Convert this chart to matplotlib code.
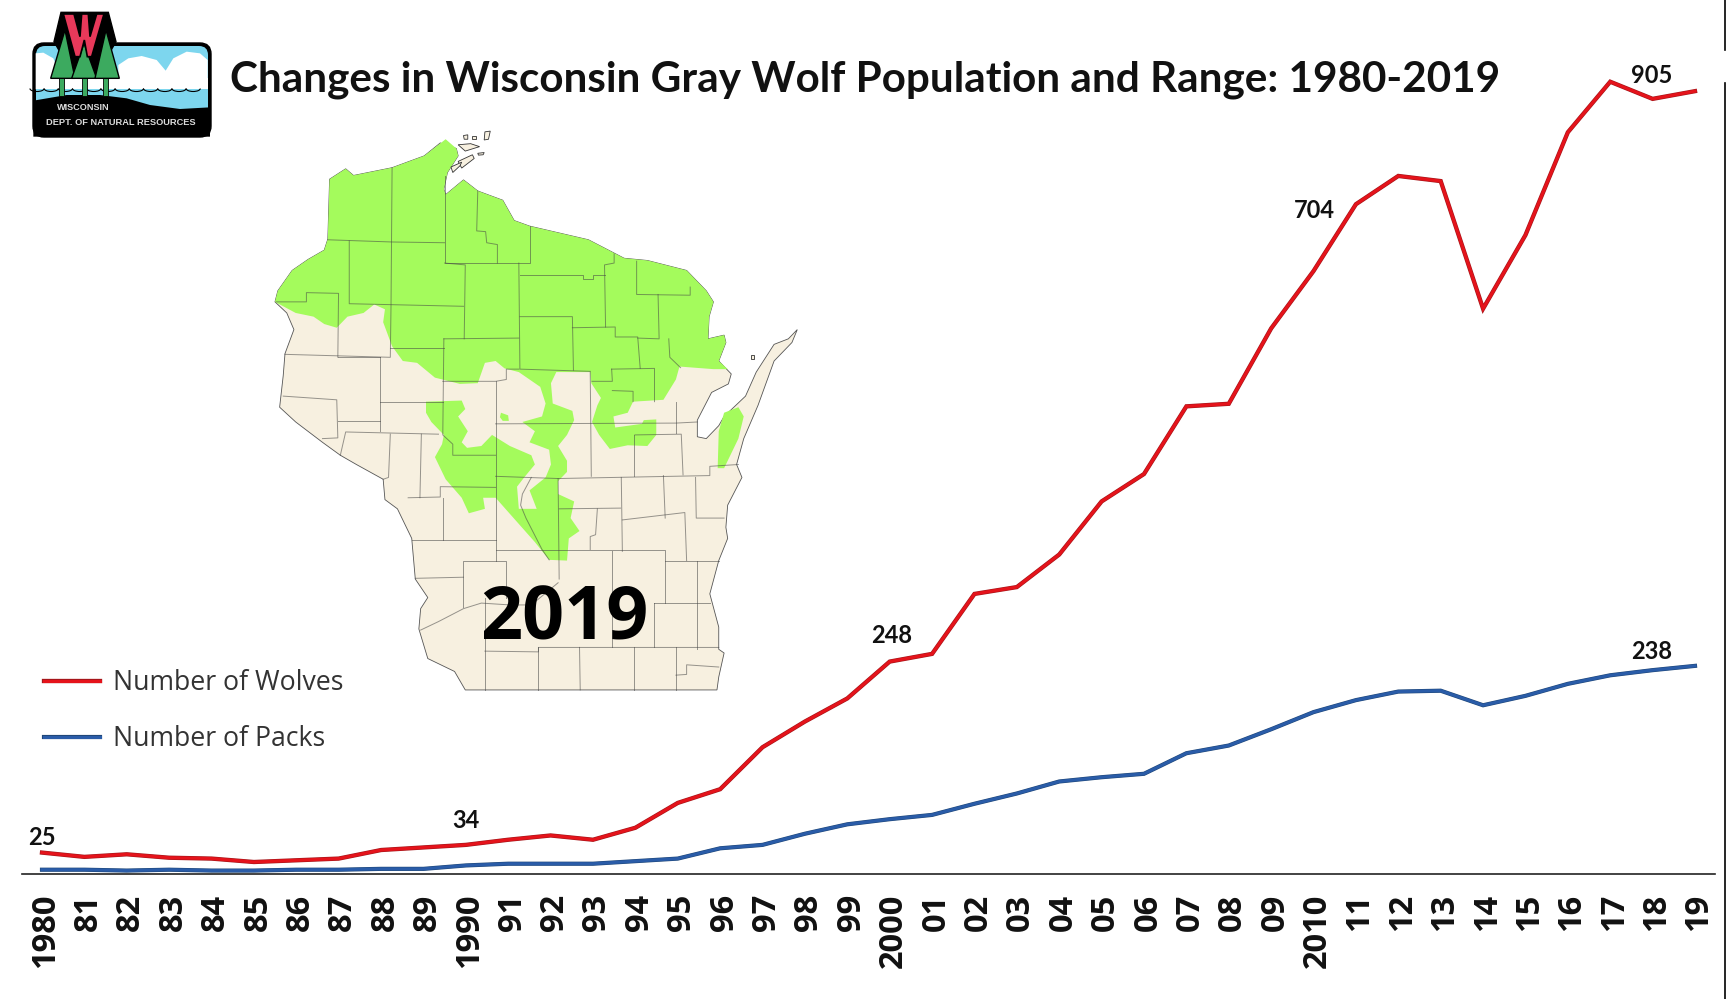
import matplotlib
matplotlib.use("Agg")
import matplotlib.pyplot as plt
import matplotlib.patheffects as pe
from matplotlib.patches import Arc, FancyBboxPatch, Polygon
from matplotlib.transforms import ScaledTranslation

plt.rcParams["font.family"] = ["Open Sans", "DejaVu Sans"]

W, H = 1726, 999
TEXT_COLOR = "#111111"
LAND = "#F7F0E0"
RANGE = "#A4FB5C"

years = list(range(1980, 2020))
wolves = [25, 20, 23, 19, 18, 14, 16, 18, 28, 31, 34, 40, 45, 40, 54, 83, 99, 148, 178, 205,
          248, 257, 327, 335, 373, 435, 467, 546, 549, 637, 704, 782, 815, 809, 660, 746,
          866, 925, 905, 914]
packs = [5, 5, 4, 5, 4, 4, 5, 5, 6, 6, 10, 12, 12, 12, 15, 18, 30, 34, 47, 58,
         64, 69, 82, 94, 108, 113, 117, 141, 150, 169, 189, 203, 213, 214, 197, 208,
         222, 232, 238, 243]
tick_labels = ["1980", "81", "82", "83", "84", "85", "86", "87", "88", "89",
               "1990", "91", "92", "93", "94", "95", "96", "97", "98", "99",
               "2000", "01", "02", "03", "04", "05", "06", "07", "08", "09",
               "2010", "11", "12", "13", "14", "15", "16", "17", "18", "19"]

# (year, x offset px, y offset px) for the few labelled values
wolf_labels = [(1980, 0, 15), (1990, 0, 24), (2000, 2, 26), (2010, 1, 61), (2018, -1, 23)]
pack_labels = [(2018, -1, 19)]

# map, in crop coordinates
state_outline = [(195, 158), (240, 130), (262, 148), (370, 127), (460, 95), (505, 60), (550, 75), (555, 95),
                 (525, 140), (515, 185), (520, 200), (570, 160), (610, 190), (680, 215), (712, 270), (755, 285),
                 (920, 322), (1020, 372), (1085, 378), (1195, 405), (1250, 460), (1270, 490), (1258, 530),
                 (1255, 590), (1300, 580), (1305, 600), (1285, 650), (1320, 685), (1312, 712), (1265, 735),
                 (1225, 810), (1225, 855), (1250, 860), (1285, 825), (1300, 800), (1360, 745), (1390, 680),
                 (1440, 605), (1480, 590), (1505, 565), (1490, 600), (1440, 650), (1395, 770), (1355, 860),
                 (1335, 930), (1350, 965), (1310, 1040), (1305, 1100), (1310, 1130), (1285, 1190), (1260, 1280),
                 (1285, 1370), (1285, 1430), (1300, 1440), (1285, 1505), (1280, 1540), (575, 1540), (545, 1490),
                 (470, 1455), (445, 1375), (450, 1320), (470, 1290), (435, 1240), (425, 1130), (385, 1050),
                 (350, 1025), (345, 970), (270, 930), (225, 905), (175, 870), (100, 815), (55, 775), (65, 690),
                 (70, 630), (95, 565), (75, 520), (42, 490), (50, 460), (90, 405), (135, 375), (180, 350),
                 (190, 320)]
range_main = [(195, 158), (240, 130), (262, 148), (370, 127), (460, 95), (500, 65), (520, 50), (550, 75),
              (555, 95), (525, 140), (515, 185), (520, 200), (570, 160), (610, 190), (680, 215), (712, 270),
              (755, 285), (920, 322), (1020, 372), (1085, 378), (1195, 405), (1250, 460), (1270, 490),
              (1258, 530), (1255, 590), (1300, 580), (1305, 600), (1285, 650), (1310, 672), (1270, 672),
              (1175, 665), (1165, 700), (1130, 755), (1045, 760), (1030, 790), (990, 800), (995, 830),
              (1070, 820), (1075, 810), (1110, 808), (1110, 850), (1085, 880), (1030, 878), (980, 888),
              (950, 850), (930, 815), (945, 770), (955, 750), (928, 710), (925, 680), (830, 680), (815, 710),
              (820, 765), (875, 785), (880, 810), (860, 850), (835, 880), (860, 920), (860, 950), (835, 975),
              (835, 1010), (880, 1030), (870, 1075), (895, 1110), (865, 1130), (860, 1190), (810, 1188),
              (770, 1140), (715, 1080), (660, 1020), (625, 1020), (630, 1050), (585, 1062), (565, 1020),
              (520, 970), (490, 910), (510, 875), (515, 850), (480, 815), (465, 790), (465, 760), (565, 757),
              (575, 780), (555, 800), (582, 840), (565, 870), (580, 885), (620, 880), (650, 850), (700, 880),
              (760, 905), (770, 930), (740, 965), (720, 990), (725, 1050), (775, 1050), (755, 1000), (800, 965),
              (815, 930), (810, 890), (755, 870), (770, 840), (735, 815), (790, 800), (800, 765), (785, 720),
              (725, 680), (685, 670), (660, 650), (630, 655), (610, 710), (560, 712), (490, 695), (440, 655),
              (400, 650), (370, 610), (345, 545), (350, 510), (320, 497), (290, 520), (245, 530), (215, 560),
              (180, 550), (150, 530), (100, 520), (42, 490), (50, 460), (90, 405), (135, 375), (180, 350),
              (190, 320)]
range_blob = [(675, 790), (695, 797), (697, 812), (680, 812), (672, 802)]
range_door = [(1300, 790), (1340, 775), (1355, 800), (1340, 860), (1300, 940), (1282, 940), (1285, 840)]
islands = [[(630, 30), (645, 28), (640, 50), (628, 52)], [(555, 65), (590, 62), (615, 70), (575, 82)],
           [(555, 110), (595, 92), (600, 102), (565, 128)], [(570, 40), (582, 38), (582, 50), (572, 50)],
           [(535, 125), (565, 112), (560, 122), (540, 140)], [(595, 40), (605, 40), (605, 48), (595, 48)],
           [(610, 88), (628, 86), (625, 92), (612, 93)], [(1375, 635), (1385, 635), (1385, 645), (1375, 645)]]
county_lines = [
    [(190, 322), (370, 328), (517, 330)], [(370, 127), (367, 500), (365, 640), (70, 632)],
    [(517, 150), (517, 385), (755, 385), (755, 285)], [(250, 325), (250, 495), (570, 502)],
    [(517, 385), (575, 390), (572, 590)], [(45, 490), (130, 490), (130, 465), (220, 467), (218, 640)],
    [(515, 590), (725, 588)], [(515, 590), (512, 850), (540, 875), (540, 905), (660, 905)],
    [(365, 615), (515, 615)], [(725, 385), (728, 672), (925, 678)], [(728, 530), (875, 530), (878, 675)],
    [(728, 418), (905, 418), (905, 428), (932, 428), (932, 418), (965, 418)],
    [(992, 360), (992, 385), (965, 390), (968, 558)],
    [(875, 560), (995, 558), (995, 585), (1058, 585), (1065, 670)],
    [(1055, 380), (1055, 470), (1205, 472), (1205, 450)], [(1115, 470), (1118, 590), (1058, 588)],
    [(1145, 590), (1148, 640), (1178, 668)], [(985, 672), (1105, 670), (1105, 760)],
    [(985, 672), (987, 705), (930, 705)], [(987, 730), (1045, 732), (1045, 760)], [(925, 680), (928, 962)],
    [(610, 190), (607, 298), (632, 300), (635, 330), (665, 335), (665, 385)],
    [(512, 705), (660, 705), (690, 700), (690, 672), (725, 672)], [(660, 705), (660, 1190)],
    [(660, 820), (1165, 818), (1225, 815)], [(1165, 760), (1165, 845)],
    [(1050, 850), (1180, 848), (1185, 958)], [(1048, 850), (1048, 960)],
    [(660, 962), (835, 968), (1260, 960), (1260, 935), (1340, 930)], [(835, 968), (838, 1240)],
    [(838, 1050), (1010, 1048)], [(1012, 965), (1015, 1165)], [(1130, 960), (1135, 1075)],
    [(1015, 1080), (1190, 1060), (1195, 1190)], [(1220, 965), (1222, 1075), (1300, 1075)],
    [(945, 1050), (940, 1120), (925, 1125), (925, 1160)], [(660, 1162), (1135, 1162), (1135, 1305)],
    [(1135, 1190), (1285, 1190)], [(985, 1165), (985, 1425)], [(1225, 1190), (1225, 1430)],
    [(1105, 1305), (1260, 1305)], [(1105, 1305), (1105, 1425)], [(630, 1435), (780, 1437), (780, 1425), (1285, 1425)],
    [(630, 1290), (630, 1540)], [(778, 1425), (778, 1540)], [(895, 1425), (897, 1540)], [(1047, 1425), (1047, 1540)],
    [(1165, 1425), (1165, 1540)], [(1165, 1500), (1195, 1498), (1195, 1472), (1285, 1478)],
    [(570, 1315), (570, 1190), (690, 1190), (690, 1290)], [(425, 1135), (660, 1135)], [(512, 1020), (512, 1135)],
    [(435, 1238), (570, 1235)], [(450, 1378), (500, 1355), (570, 1320), (620, 1305), (700, 1310), (760, 1310), (835, 1250)],
    [(225, 905), (240, 842), (500, 848)], [(365, 848), (360, 965), (345, 970)], [(452, 848), (448, 1020)],
    [(415, 1020), (505, 1018), (505, 990), (660, 992)], [(335, 640), (335, 840)], [(335, 760), (512, 760)],
    [(218, 640), (335, 640)], [(65, 745), (215, 755), (218, 858), (175, 860)], [(218, 812), (335, 812)],
    [(760, 965), (735, 1010), (730, 1040), (745, 1075), (790, 1160), (810, 1188)],
]

# logo pieces, in 3x crop coordinates
logo_cloud_left = [(107, 160), (130, 158), (160, 175), (172, 205), (165, 268), (107, 268)]
logo_cloud_right = [(355, 195), (385, 175), (425, 168), (470, 180), (497, 212), (520, 175), (560, 155), (600, 160),
                    (623, 180), (623, 268), (355, 268)]
logo_band = [(107, 235), (623, 235), (623, 268), (107, 268)]
logo_water = [(107, 268), (623, 268), (623, 330), (107, 330)]
logo_hill = [(100, 302), (200, 285), (300, 285), (380, 295), (450, 315), (540, 327), (630, 322), (630, 410), (100, 410)]
logo_back = [(183, 37), (325, 37), (348, 125), (290, 225), (253, 150), (220, 225), (162, 125)]
logo_trees = [[(195, 90), (225, 235), (152, 235)], [(252, 130), (290, 235), (215, 235)], [(318, 90), (358, 235), (285, 235)]]
logo_trunks = [(178, 192), (245, 260), (310, 325)]
logo_w = [(190, 42), (222, 42), (240, 110), (245, 42), (265, 42), (270, 110), (290, 42), (312, 42), (275, 170),
          (262, 170), (253, 120), (240, 170), (225, 170)]


def crop_to_px(points):
    return [(260 + x * 0.357, 130 + (y - 25) * 0.3696) for x, y in points]


def logo_px(points):
    return [(x / 3, y / 3) for x, y in points]


def draw_map(ax):
    ax.add_patch(Polygon(crop_to_px(state_outline), fc=LAND, ec="#555555", lw=0.6))
    for shape in (range_main, range_blob, range_door):
        ax.add_patch(Polygon(crop_to_px(shape), fc=RANGE, ec="none"))
    for shape in islands:
        ax.add_patch(Polygon(crop_to_px(shape), fc=LAND, ec="#333333", lw=0.6))
    for line in county_lines:
        xs, ys = zip(*crop_to_px(line))
        ax.plot(xs, ys, color="#444444", alpha=0.55, lw=0.7)
    ax.text(564, 620, "2019", fontsize=53, fontweight="bold", color="black", ha="center", va="center")


def draw_logo(ax):
    sky = "#7DD6EE"
    green = "#3CAA5F"
    ax.add_patch(FancyBboxPatch((33, 43), 178, 94, boxstyle="round,pad=0,rounding_size=11", fc="black", ec="black", lw=1, zorder=2))
    ax.add_patch(FancyBboxPatch((36, 46), 172, 88, boxstyle="round,pad=0,rounding_size=9", fc=sky, ec="none", zorder=3))
    for shape in (logo_cloud_left, logo_cloud_right, logo_band):
        ax.add_patch(Polygon(logo_px(shape), fc="white", ec="none", zorder=3))
    ax.add_patch(Polygon(logo_px(logo_water), fc=sky, ec="none", zorder=3))
    for i in range(12):
        ax.add_patch(Arc((37 + i * 14.2, 88.5), 14.2, 6, theta1=0, theta2=180, color="black", lw=0.8, zorder=3.5))
    ax.add_patch(Polygon(logo_px(logo_hill), fc="black", ec="none", zorder=4))
    ax.add_patch(Polygon(logo_px(logo_back), fc="black", ec="black", zorder=5))
    for tree, (x0, x1) in zip(logo_trees, logo_trunks):
        ax.add_patch(Polygon(logo_px([(x0, 235), (x1, 235), (x1, 288), (x0, 288)]), fc=green, ec="black", lw=0.6, zorder=5))
        ax.add_patch(Polygon(logo_px(tree), fc=green, ec="black", lw=1, zorder=5))
    ax.add_patch(Polygon(logo_px(logo_w), fc="#E8395A", ec="black", lw=1.2, zorder=6))
    ax.text(83, 107, "WISCONSIN", color="#DDDDDD", fontsize=6.6, fontweight="bold", family="Liberation Sans", ha="center", va="center", zorder=7)
    ax.text(120.5, 122.5, "DEPT. OF NATURAL RESOURCES", color="#DDDDDD", fontsize=6.7, fontweight="bold", family="Liberation Sans", ha="center", va="center", zorder=7)


fig = plt.figure(figsize=(W / 100, H / 100), dpi=100, facecolor="white")

# backdrop in picture pixels for the map and the logo
bg = fig.add_axes([0, 0, 1, 1])
bg.set_xlim(0, W)
bg.set_ylim(H, 0)
bg.axis("off")
draw_map(bg)
draw_logo(bg)
bg.plot([1725, 1725], [0, 50], color="black", lw=1.2)
bg.plot([1725, 1725], [83, H], color="black", lw=1.2)

# chart axes: left/right edge of the baseline, y from baseline up
left, right, base, top = 22, 1715, 874, 40
step = (1695 - 42) / 39
ax = fig.add_axes([left / W, (H - base) / H, (right - left) / W, (base - top) / H])
ax.patch.set_alpha(0)
ax.set_xlim(1980 - (42 - left) / step, 2019 + (right - 1695) / step)
ax.set_ylim(0, (base - top) / 0.8565)

line_w, = ax.plot(years, wolves, color="#E5131B", lw=2.2, label="Number of Wolves", solid_joinstyle="miter",
                  path_effects=[pe.withStroke(linewidth=3.1, foreground="#A5161A")])
line_p, = ax.plot(years, packs, color="#2A5CA8", lw=2.2, label="Number of Packs", solid_joinstyle="miter",
                  path_effects=[pe.withStroke(linewidth=3.0, foreground="#1F4778")])

for spine in ("top", "right", "left"):
    ax.spines[spine].set_visible(False)
ax.spines["bottom"].set_color("#222222")
ax.spines["bottom"].set_linewidth(1.2)
ax.set_yticks([])
ax.set_xticks(years)
ax.set_xticklabels(tick_labels, rotation=90, fontsize=23.5, fontweight="bold", color=TEXT_COLOR)
ax.tick_params(axis="x", length=0, pad=14)
nudge = ScaledTranslation(4 / 100, 0, fig.dpi_scale_trans)
for label in ax.get_xticklabels():
    label.set_transform(label.get_transform() + nudge)

for year, dx, dy in wolf_labels:
    v = wolves[years.index(year)]
    ax.annotate(str(v), (year, v), xytext=(dx, dy), textcoords="offset pixels", ha="center", va="center",
                fontsize=17, fontweight="bold", family="Lato", color=TEXT_COLOR)
for year, dx, dy in pack_labels:
    v = packs[years.index(year)]
    ax.annotate(str(v), (year, v), xytext=(dx, dy), textcoords="offset pixels", ha="center", va="center",
                fontsize=17, fontweight="bold", family="Lato", color=TEXT_COLOR)

fig.legend(handles=[line_w, line_p], loc="upper left", bbox_to_anchor=(44 / W, 1 - 669 / H), frameon=False,
           fontsize=19.2, handlelength=2.1, handletextpad=0.5, labelspacing=1.05, borderpad=0, borderaxespad=0,
           labelcolor="#333333")

fig.text(230 / W, 1 - 80 / H, "Changes in Wisconsin Gray Wolf Population and Range: 1980-2019", fontsize=30.4,
         fontweight="bold", family="Lato", color=TEXT_COLOR, va="center", ha="left")

fig.savefig("out.png", dpi=100)
